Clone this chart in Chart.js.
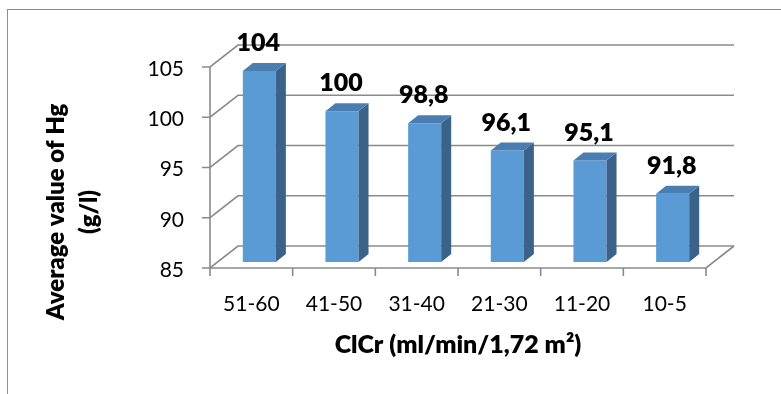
<!DOCTYPE html>
<html><head><meta charset="utf-8">
<script src="https://cdn.jsdelivr.net/npm/chart.js@4"></script>
<style>
html,body{margin:0;padding:0;background:#fff;}
#wrap{position:relative;width:781px;height:394px;overflow:hidden;background:#fff;}
#frame{position:absolute;left:7px;top:9px;right:-10px;bottom:-10px;border-left:1.5px solid #8e8e8e;border-top:1.5px solid #8e8e8e;}
canvas{position:absolute;left:0;top:0;}
</style></head><body>
<div id="wrap"><div id="frame"></div><canvas id="c" width="781" height="394"></canvas></div>
<script>
// ---- data ----
const categories = ['51-60', '41-50', '31-40', '21-30', '11-20', '10-5'];
const hgValues = [104, 100, 98.8, 96.1, 95.1, 91.8];
const yMin = 85, yMax = 105, yStep = 5;
const xTitle = 'ClCr (ml/min/1,72 m²)';
const yTitleLines = ['Average value of Hg', '(g/l)'];

// ---- style ----
const FONT = 'Lato, "Open Sans", sans-serif';
const BOLD = '800';
const GRID = '#8a8a8a';
const FRONT_C = '#5b9bd5', SIDE_C = '#3b6389', TOP_C = '#4a7db0';
const FRONT = {dx: -8, dy: 6};   // bar plane -> front plane
const BACK = {dx: 20, dy: -16};  // bar plane -> back wall
const BAR = {dx: 10, dy: -8};    // bar depth
const fmt = v => String(v).replace('.', ',');

const depthPlugin = {
  id: 'depth3d',
  beforeDatasetsDraw(chart) {
    const {ctx, chartArea: a, scales: {x, y}} = chart;
    ctx.save();
    ctx.strokeStyle = GRID; ctx.lineWidth = 1.6; ctx.lineJoin = 'miter';
    const fl = a.left + FRONT.dx, fr = a.right + FRONT.dx;
    y.ticks.forEach(t => {
      const py = y.getPixelForValue(t.value);
      ctx.beginPath();
      ctx.moveTo(fl - 8, py + FRONT.dy);
      ctx.lineTo(fl, py + FRONT.dy);
      ctx.lineTo(a.left + BACK.dx, py + BACK.dy);
      ctx.lineTo(a.right + BACK.dx, py + BACK.dy);
      ctx.stroke();
    });
    const fb = a.bottom + FRONT.dy, ft = y.getPixelForValue(y.max) + FRONT.dy;
    ctx.beginPath();
    ctx.moveTo(fl, ft); ctx.lineTo(fl, fb); ctx.lineTo(fr, fb);
    ctx.lineTo(a.right + BACK.dx, a.bottom + BACK.dy);
    ctx.stroke();
    const n = x.ticks.length;
    ctx.beginPath();
    for (let i = 0; i <= n; i++) {
      const px = fl + (fr - fl) * i / n;
      ctx.moveTo(px, fb); ctx.lineTo(px, fb + 8);
    }
    ctx.stroke();
    ctx.restore();
  },
  afterDatasetsDraw(chart) {
    const {ctx, chartArea: a, scales: {y}} = chart;
    const meta = chart.getDatasetMeta(0);
    const floorY = y.getPixelForValue(y.min);
    ctx.save();
    meta.data.forEach((bar, i) => {
      const p = bar.getProps(['x', 'y', 'width'], true);
      const base = floorY;
      const l = p.x - p.width / 2, r = p.x + p.width / 2;
      ctx.fillStyle = SIDE_C;
      ctx.beginPath();
      ctx.moveTo(r, p.y); ctx.lineTo(r + BAR.dx, p.y + BAR.dy);
      ctx.lineTo(r + BAR.dx, base + BAR.dy); ctx.lineTo(r, base);
      ctx.closePath(); ctx.fill();
      ctx.fillStyle = TOP_C;
      ctx.beginPath();
      ctx.moveTo(l, p.y); ctx.lineTo(l + BAR.dx, p.y + BAR.dy);
      ctx.lineTo(r + BAR.dx, p.y + BAR.dy); ctx.lineTo(r, p.y);
      ctx.closePath(); ctx.fill();
      ctx.fillStyle = '#000';
      ctx.font = BOLD + ' 25px ' + FONT;
      ctx.textAlign = 'center'; ctx.textBaseline = 'middle';
      ctx.fillText(fmt(hgValues[i]), p.x - 1, p.y - 28);
    });
    ctx.fillStyle = '#000';
    ctx.textAlign = 'center'; ctx.textBaseline = 'middle';
    // x axis title
    ctx.font = BOLD + ' 25px ' + FONT;
    ctx.fillText(xTitle, (a.left + a.right) / 2 + FRONT.dx, a.bottom + 83);
    // y axis title (two lines, rotated)
    ctx.font = BOLD + ' 24px ' + FONT;
    ctx.translate(56, 212);
    ctx.rotate(-Math.PI / 2);
    ctx.fillText(yTitleLines[0], 0, 0);
    ctx.fillText(yTitleLines[1], 0, 33);
    ctx.restore();
  }
};

new Chart(document.getElementById('c'), {
  type: 'bar',
  data: {
    labels: categories,
    datasets: [{
      data: hgValues,
      backgroundColor: FRONT_C,
      borderWidth: 0,
      barPercentage: 0.4,
      categoryPercentage: 1
    }]
  },
  options: {
    responsive: false,
    animation: false,
    layout: {padding: {left: 0, right: 67, top: 61, bottom: 0}},
    plugins: {legend: {display: false}, tooltip: {enabled: false}},
    scales: {
      x: {
        grid: {display: false, drawTicks: false},
        border: {display: false},
        ticks: {color: '#000', font: {family: FONT, size: 21}, padding: 30, labelOffset: -8, maxRotation: 0, autoSkip: false},
        afterFit: s => { s.height = 132; }
      },
      y: {
        min: yMin, max: yMax,
        beginAtZero: false,
        grid: {display: false, drawTicks: false},
        border: {display: false},
        ticks: {stepSize: yStep, color: '#000', font: {family: FONT, size: 21}, padding: 34, labelOffset: 8},
        afterFit: s => { s.width = 218; }
      }
    }
  },
  plugins: [depthPlugin]
});
</script>
</body></html>
